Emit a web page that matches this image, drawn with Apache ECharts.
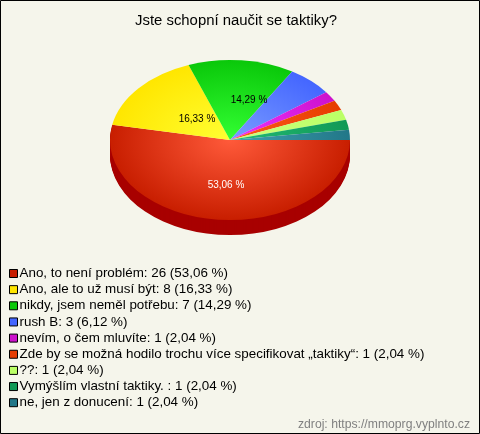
<!DOCTYPE html>
<html><head><meta charset="utf-8">
<style>html,body{margin:0;padding:0;background:#f5f5eb}#c{width:480px;height:434px}</style>
<script src="https://cdn.jsdelivr.net/npm/echarts@6/dist/echarts.min.js"></script>
</head><body><div id="c"></div>
<script>
const categories = ["Ano, to není problém","Ano, ale to už musí být","nikdy, jsem neměl potřebu","rush B","nevím, o čem mluvíte","Zde by se možná hodilo trochu více specifikovat „taktiky“","??","Vymýšlím vlastní taktiky. ","ne, jen z donucení"];
const values = [26,8,7,3,1,1,1,1,1];
const percents = ["53,06","16,33","14,29","6,12","2,04","2,04","2,04","2,04","2,04"];
const innerColors = ["#ff5a3a","#ffff33","#33ff33","#7a9cff","#ee33ff","#ff5a1a","#ccff80","#22bb77","#3fa0b0"];
const outerColors = ["#c81e00","#ffe600","#0ac80a","#4466ff","#cc11cc","#e63c00","#bbff66","#119955","#227788"];
const sideColor = "#a80000";
const labelAnchors = {0:[-4,45],1:[-33,-21],2:[19,-40]};
const CX=230, CY=140, RX=120, RY=80, DEPTH=15;
const total = values.reduce((a,b)=>a+b,0);
const FONT = '"Liberation Sans", Arial, sans-serif';
let acc = 0;
const spans = values.map(v=>{const s=acc/total*Math.PI*2; acc+=v; return [s,acc/total*Math.PI*2];});

function sector(i, dy, fill){
  return {type:'sector', x:CX, y:CY+dy, scaleY:RY/RX,
    shape:{cx:0,cy:0,r0:0,r:RX,startAngle:spans[i][0],endAngle:spans[i][1],clockwise:true},
    style:{fill}};
}
const series = [];
series.push({type:'custom',name:'side',coordinateSystem:'none',silent:true,z:1,data:[0],
  renderItem(){
    const ch=[];
    values.forEach((v,i)=>{ if(spans[i][0] < Math.PI){ for(let d=DEPTH;d>=1;d--) ch.push(sector(i,d,sideColor)); } });
    return {type:'group',children:ch};
  }});
categories.forEach((name,i)=>{
  series.push({type:'custom',name,coordinateSystem:'none',silent:true,z:2,
    color:outerColors[i],itemStyle:{color:outerColors[i]},data:[values[i]],
    renderItem(){
      const grad={type:'radial',colorStops:[{offset:0,color:innerColors[i]},{offset:1,color:outerColors[i]}]};
      const el=sector(i,0,{...grad,global:true,x:0,y:0,r:RX});
      const ch=[el];
      if(labelAnchors[i]){
        ch.push({type:'text',z2:10,x:CX+labelAnchors[i][0],y:CY+labelAnchors[i][1],
          style:{text:percents[i]+' %',font:'10px '+FONT,fill:i===0?'#fff':'#000',align:'center',verticalAlign:'middle'}});
      }
      return {type:'group',children:ch};
    }});
});
const chart = echarts.init(document.getElementById('c'),null,{renderer:'canvas'});
chart.setOption({
  backgroundColor:'#f5f5eb',animation:false,
  title:{text:'Jste schopní naučit se taktiky?',left:135,top:13,padding:0,textStyle:{fontFamily:FONT,fontSize:14.9,fontWeight:'normal',color:'#000'}},
  legend:{orient:'vertical',left:9,top:267,itemWidth:8,itemHeight:8,itemGap:3.15,padding:0,
    data:categories.map(n=>({name:n,icon:'rect',itemStyle:{borderColor:'#000',borderWidth:1}})),selectedMode:false,
    textStyle:{fontFamily:FONT,fontSize:13.4,color:'#000',padding:[0,0,0,-3],lineHeight:12},
    formatter:n=>{const i=categories.indexOf(n);return n+': '+values[i]+' ('+percents[i]+' %)';}},
  graphic:[
    {type:'rect',z:100,shape:{x:0.5,y:0.5,width:479,height:433},style:{fill:'none',stroke:'#000',lineWidth:1}},
    {type:'text',z:100,right:10,bottom:3,style:{text:'zdroj: https://mmoprg.vyplnto.cz',font:'12.2px '+FONT,fill:'#808080'}}
  ],
  series
});
</script></body></html>
